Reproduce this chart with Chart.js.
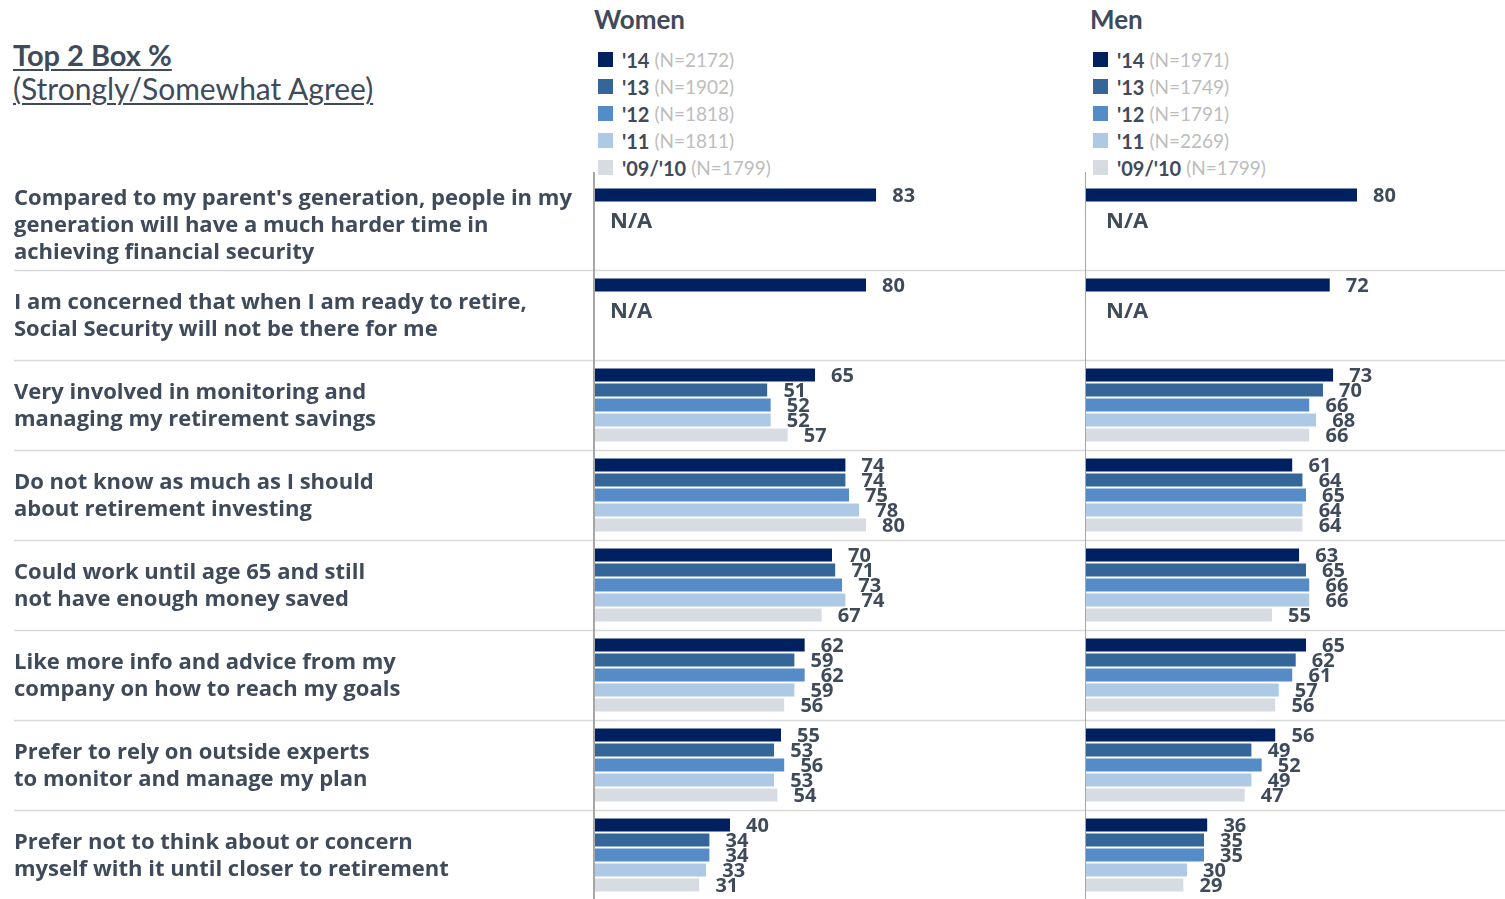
<!DOCTYPE html>
<html>
<head>
<meta charset="utf-8">
<script src="https://cdn.jsdelivr.net/npm/chart.js@4"></script>
<style>
    body { margin:0; background:#fff; font-family:'Lato', sans-serif; color:#3F4B5B; }
    #page { position:relative; width:1505px; height:899px; overflow:hidden; }
    .head { position:absolute; left:13px; text-decoration:underline; text-decoration-thickness:2px; text-underline-offset:3px; white-space:nowrap; }
    .panel-title { position:absolute; top:3px; font-size:26px; font-weight:700; }
    .legend { position:absolute; top:46px; }
    .legend div { height:27px; display:flex; align-items:center; white-space:nowrap; }
    .legend .sw { width:15px; height:15px; margin-right:9px; }
    .legend b { font-size:20px; }
    .legend span.n { font-size:19px; color:#BDBDBD; margin-left:5px; }
    canvas { position:absolute; top:172px; }
</style>
</head>
<body>
<div id="page">
    <div class="head" style="top:37px; font-size:29px; font-weight:700;">Top 2 Box %</div>
    <div class="head" style="top:70px; font-size:30px;">(Strongly/Somewhat Agree)</div>

    <div class="panel-title" style="left:594px;">Women</div>
    <div class="panel-title" style="left:1090px;">Men</div>
    <div class="legend" id="legendWomen" style="left:598px;"></div>
    <div class="legend" id="legendMen" style="left:1093px;"></div>

    <canvas id="womenChart" width="1085" height="728" style="left:0;"></canvas>
    <canvas id="menChart" width="420" height="728" style="left:1085px;"></canvas>
</div>

<script>
// Top 2 Box % per pernyataan, Women vs Men, 5 gelombang survei.
// null = tidak ditanyakan tahun itu (ditampilkan "N/A").

const CATEGORIES = [
    ["Compared to my parent's generation, people in my", "generation will have a much harder time in", "achieving financial security"],
    ["I am concerned that when I am ready to retire,", "Social Security will not be there for me"],
    ["Very involved in monitoring and", "managing my retirement savings"],
    ["Do not know as much as I should", "about retirement investing"],
    ["Could work until age 65 and still", "not have enough money saved"],
    ["Like more info and advice from my", "company on how to reach my goals"],
    ["Prefer to rely on outside experts", "to monitor and manage my plan"],
    ["Prefer not to think about or concern", "myself with it until closer to retirement"]
];

const SERIES = ["'14", "'13", "'12", "'11", "'09/'10"];
const WOMEN_N = [2172, 1902, 1818, 1811, 1799];
const MEN_N   = [1971, 1749, 1791, 2269, 1799];

const WOMEN_14 = [83, 80, 65, 74, 70, 62, 55, 40];
const WOMEN_13 = [null, null, 51, 74, 71, 59, 53, 34];
const WOMEN_12 = [null, null, 52, 75, 73, 62, 56, 34];
const WOMEN_11 = [null, null, 52, 78, 74, 59, 53, 33];
const WOMEN_10 = [null, null, 57, 80, 67, 56, 54, 31];

const MEN_14 = [80, 72, 73, 61, 63, 65, 56, 36];
const MEN_13 = [null, null, 70, 64, 65, 62, 49, 35];
const MEN_12 = [null, null, 66, 65, 66, 61, 52, 35];
const MEN_11 = [null, null, 68, 64, 66, 57, 49, 30];
const MEN_10 = [null, null, 66, 64, 55, 56, 47, 29];

const COLORS = ['#002060', '#346699', '#558CC8', '#ADC9E5', '#D7DCE3'];
const TEXT_COLOR = '#3F4B5B';

function renderLegend(id, counts) {
    const box = document.getElementById(id);
    box.innerHTML = SERIES.map((s, i) => `
        <div><i class="sw" style="background:${COLORS[i]}"></i><b>${s}</b><span class="n">(N=${counts[i]})</span></div>`
    ).join('');
}

// garis pemisah antar baris + garis sumbu vertikal
const framePlugin = {
    id: 'frame',
    beforeDatasetsDraw(chart, args, opts) {
        const { ctx, scales } = chart;
        const y = scales.y;
        ctx.save();
        ctx.strokeStyle = '#D9D9D9';
        ctx.lineWidth = 1.5;
        for (let i = 1; i < CATEGORIES.length; i++) {
            const py = Math.round((y.getPixelForValue(i - 1) + y.getPixelForValue(i)) / 2) + 0.5;
            ctx.beginPath();
            ctx.moveTo(opts.lineStart, py);
            ctx.lineTo(chart.width, py);
            ctx.stroke();
        }
        ctx.restore();
    },
    afterDatasetsDraw(chart) {
        const { ctx, chartArea } = chart;
        ctx.save();
        ctx.strokeStyle = '#A6A6A6';
        ctx.lineWidth = 2;
        ctx.beginPath();
        ctx.moveTo(chartArea.left, 0);
        ctx.lineTo(chartArea.left, chart.height);
        ctx.stroke();
        ctx.restore();
    }
};

// angka di ujung bar, "N/A" kalau tahun lain tidak ada datanya
const valuePlugin = {
    id: 'values',
    afterDraw(chart, args, opts) {
        const { ctx, chartArea, scales } = chart;
        ctx.save();
        ctx.fillStyle = TEXT_COLOR;
        ctx.textBaseline = 'middle';
        ctx.textAlign = 'left';
        ctx.font = 'bold 20px "Open Sans"';
        chart.data.datasets.forEach((ds, di) => {
            const meta = chart.getDatasetMeta(di);
            meta.data.forEach((bar, i) => {
                if (ds.data[i] === null) return;
                ctx.fillText(String(ds.data[i]), bar.x + 16, bar.y + 1);
            });
        });
        ctx.font = 'bold 22px "Open Sans"';
        CATEGORIES.forEach((c, i) => {
            const missing = chart.data.datasets.slice(1).every(ds => ds.data[i] === null);
            if (!missing) return;
            ctx.fillText('N/A', chartArea.left + opts.naOffset, scales.y.getPixelForValue(i) - 3);
        });
        ctx.restore();
    }
};

function makeChart(canvasId, rows, xMax, withLabels, naOffset) {
    return new Chart(document.getElementById(canvasId), {
        type: 'bar',
        data: {
            labels: CATEGORIES,
            datasets: rows.map((data, i) => ({
                label: SERIES[i],
                data,
                backgroundColor: COLORS[i],
                borderColor: '#FFFFFF',
                borderWidth: { top: 1, bottom: 1, left: 0, right: 0 },
                categoryPercentage: 0.835,
                barPercentage: 1
            }))
        },
        options: {
            indexAxis: 'y',
            responsive: false,
            animation: false,
            events: [],
            layout: { padding: { top: 8, left: withLabels ? 14 : 0, right: 0, bottom: 0 } },
            plugins: {
                legend: { display: false },
                tooltip: { enabled: false },
                frame: { lineStart: withLabels ? 14 : 0 },
                values: { naOffset }
            },
            scales: {
                x: { display: false, min: 0, max: xMax },
                y: {
                    display: withLabels,
                    grid: { display: false },
                    border: { display: false },
                    // lebar kolom label tetap, tanpa padding ekstra atas/bawah
                    afterFit: s => {
                        if (!withLabels) return;
                        s.width = 580;
                        s.paddingTop = 0;
                        s.paddingBottom = 0;
                    },
                    ticks: {
                        autoSkip: false,
                        crossAlign: 'far',
                        labelOffset: 1,
                        color: TEXT_COLOR,
                        font: { family: '"Open Sans"', size: 22, weight: 'bold', lineHeight: 1.227 }
                    }
                }
            }
        },
        plugins: [framePlugin, valuePlugin]
    });
}

document.addEventListener('DOMContentLoaded', () => {
    renderLegend('legendWomen', WOMEN_N);
    renderLegend('legendMen', MEN_N);
    // skala sama di dua panel: ~3.4 px per poin
    makeChart('womenChart', [WOMEN_14, WOMEN_13, WOMEN_12, WOMEN_11, WOMEN_10], 144.4, true, 16);
    makeChart('menChart', [MEN_14, MEN_13, MEN_12, MEN_11, MEN_10], 123.5, false, 21);
});
</script>
</body>
</html>
